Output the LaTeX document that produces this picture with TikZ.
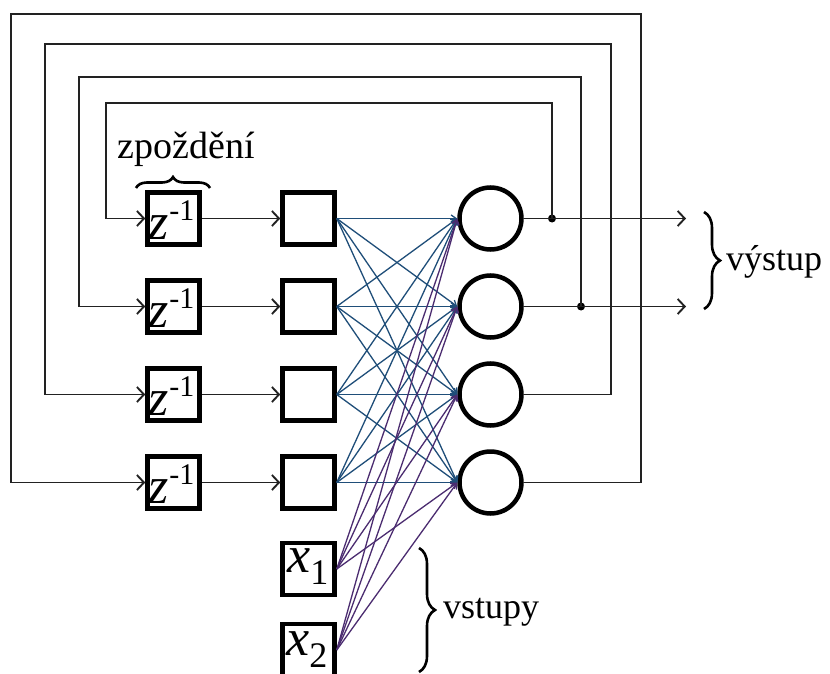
\documentclass[tikz,border=0pt]{standalone}
\usepackage{fontspec}
\setmainfont{Liberation Serif}
\usetikzlibrary{arrows.meta,decorations.pathreplacing}
\definecolor{wblue}{HTML}{1F4E79}
\definecolor{wpurple}{HTML}{4B2C70}
\definecolor{wline}{HTML}{222222}
\newcommand\zinv{{\fontsize{52}{52}\selectfont\itshape z}\kern1pt\raisebox{19pt}{\fontsize{30}{30}\selectfont -1}}
\newcommand\xin[1]{{\fontsize{52}{52}\selectfont\itshape x}\raisebox{-12pt}{\fontsize{36}{36}\selectfont #1}}
\begin{document}
\begin{tikzpicture}[x=1pt,y=-1pt,
 blk/.style={draw=black,line width=4.5pt,minimum width=52pt,minimum height=52pt,inner sep=0pt},
 neuron/.style={draw=black,line width=4.5pt,circle,minimum size=62pt,inner sep=0pt},
 fb/.style={draw=wline,line width=1.9pt},
 arr/.style={-{Straight Barb[length=7pt,width=15pt,line width=1.9pt]}},
 wb/.style={draw=wblue,line width=1.3pt,-{Straight Barb[length=5pt,width=7pt,line width=1.3pt]}},
 wp/.style={draw=wpurple,line width=1.3pt,-{Straight Barb[length=5pt,width=7pt,line width=1.3pt]}},
 jdot/.style={circle,fill=black,inner sep=0pt,minimum size=8pt},
 lbl/.style={anchor=base west,inner sep=0pt},
 brc/.style={decorate,line width=2.6pt},
]
\clip (0,0) rectangle (830,674);
\fill[white] (0,0) rectangle (830,674);
% rows
\foreach \i/\r in {1/218.5,2/306.5,3/394.5,4/482.5}{
  \node[blk] (z\i) at (173.5,\r) {};
  \node[lbl] (zt\i) at (148,\r+21) {\zinv};
  \node[blk] (h\i) at (308.5,\r) {};
  \node[neuron] (n\i) at (490.5,\r) {};
}
\node[blk] (x1) at (308.5,569) {};
\node[lbl] (xt1) at (287,572) {\xin{1}};
\node[blk] (x2) at (308.5,650) {};
\node[lbl] (xt2) at (286,655) {\xin{2}};
% weights
\foreach \i in {1,2,3,4}{
  \foreach \j in {1,2,3,4}{
    \draw[wb] (h\i.east) -- (n\j.west);
  }
}
\foreach \i in {1,2}{
  \foreach \j in {1,2,3,4}{
    \draw[wp] (x\i.east) -- (n\j.west);
  }
}
% delay to hidden
\foreach \i in {1,2,3,4}{
  \draw[fb,arr] (z\i.east) -- (h\i.west);
}
% outputs and feedback
\node[jdot] (d1) at (552,218.5) {};
\node[jdot] (d2) at (581,306.5) {};
\coordinate (o1) at (686,218.5);
\coordinate (o2) at (686,306.5);
\draw[fb,arr] (n1.east) -- (o1);
\draw[fb,arr] (n2.east) -- (o2);
\coordinate (a1) at (552,103); \coordinate (b1) at (106,103);
\coordinate (a2) at (581,77);  \coordinate (b2) at (79,77);
\coordinate (c3) at (611,394.5); \coordinate (a3) at (611,44); \coordinate (b3) at (45,44);
\coordinate (c4) at (641,482.5); \coordinate (a4) at (641,14); \coordinate (b4) at (11,14);
\draw[fb,arr] (d1.center) -- (a1) -- (b1) |- (z1.west);
\draw[fb,arr] (d2.center) -- (a2) -- (b2) |- (z2.west);
\draw[fb,arr] (n3.east) -- (c3) -- (a3) -- (b3) |- (z3.west);
\draw[fb,arr] (n4.east) -- (c4) -- (a4) -- (b4) |- (z4.west);
% braces and labels
\coordinate (bz1) at (136,188); \coordinate (bz2) at (210,188);
\draw[brc,decoration={brace,amplitude=11pt}] (bz1) -- (bz2);
\node[anchor=base,inner sep=0pt,font=\fontsize{38}{38}\selectfont] (lz) at (186,158) {zpoždění};
\coordinate (bo1) at (704,212); \coordinate (bo2) at (704,309);
\draw[brc,decoration={brace,amplitude=16pt}] (bo1) -- (bo2);
\node[lbl,font=\fontsize{36}{36}\selectfont] (lo) at (726,270) {výstup};
\coordinate (bi1) at (419,548); \coordinate (bi2) at (419,672);
\draw[brc,decoration={brace,amplitude=16pt}] (bi1) -- (bi2);
\node[lbl,font=\fontsize{36}{36}\selectfont] (li) at (443,618) {vstupy};
\end{tikzpicture}
\end{document}
